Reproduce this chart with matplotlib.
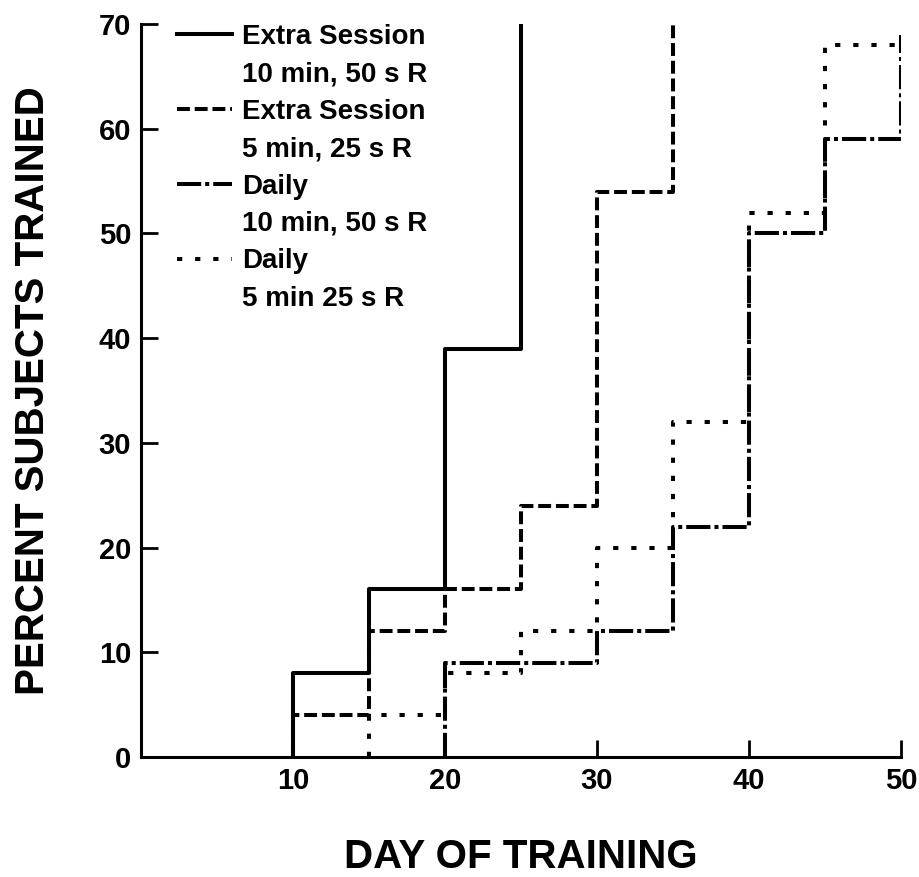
import matplotlib.pyplot as plt
from matplotlib.lines import Line2D

plt.rcParams['font.family'] = ['Liberation Sans', 'DejaVu Sans']
plt.rcParams['font.weight'] = 'bold'

# cumulative percent of subjects reaching criterion, read every 5 days
days = [0, 5, 10, 15, 20, 25, 30, 35, 40, 45, 50]
extra_10min = [0, 0, 8, 16, 39, 100, 100, 100, 100, 100, 100]
extra_5min = [0, 0, 4, 12, 16, 24, 54, 100, 100, 100, 100]
daily_10min = [0, 0, 0, 0, 9, 9, 12, 22, 50, 59, 69]
daily_5min = [0, 0, 0, 4, 8, 12, 20, 32, 52, 68, 68]

x_ticks = [10, 20, 30, 40, 50]
y_ticks = [0, 10, 20, 30, 40, 50, 60, 70]

dashed = (0, (3.2, 1.2))
dashdot = (0, (6, 1, 1, 1))
dotted = (0, (1.3, 3.2))


def from_first_rise(xs, ys):
    # drop the flat run along zero so the curve starts with its first riser
    k = next(i for i, v in enumerate(ys) if v > 0)
    return [xs[k]] + xs[k:], [0] + ys[k:]


fig = plt.figure(figsize=(9.19, 8.77), dpi=100)
ax = fig.add_axes([0.1534, 0.1368, 0.827, 0.8358])

lw = 2.9
series = [(extra_10min, '-'), (extra_5min, dashed),
          (daily_10min, dashdot), (daily_5min, dotted)]
for vals, ls in series:
    xs, ys = from_first_rise(days, vals)
    ax.step(xs, ys, where='post', color='black', lw=lw, linestyle=ls)

ax.set_xlim(0, 50)
ax.set_ylim(0, 70)
ax.set_xticks(x_ticks)
ax.set_yticks(y_ticks)

for side in ['top', 'right']:
    ax.spines[side].set_visible(False)
for side in ['left', 'bottom']:
    ax.spines[side].set_linewidth(2.2)
ax.tick_params(direction='in', length=12, width=2, pad=7, labelsize=21)

ax.set_xlabel('DAY OF TRAINING', fontsize=29, fontweight='bold')
ax.set_ylabel('PERCENT SUBJECTS TRAINED', fontsize=29, fontweight='bold')
ax.xaxis.set_label_coords(0.5, -0.11)
ax.yaxis.set_label_coords(-0.117, 0.5)

# legend: one row per text line, blank handles for the second lines
blank = Line2D([], [], alpha=0)
handles = []
for _, ls in series:
    handles += [Line2D([], [], color='black', lw=lw, linestyle=ls), blank]
labels = ['Extra Session', '10 min, 50 s R',
          'Extra Session', '5 min, 25 s R',
          'Daily', '10 min, 50 s R',
          'Daily', '5 min 25 s R']
ax.legend(handles, labels, loc='upper left', bbox_to_anchor=(0.047, 1.0),
          frameon=False, fontsize=20, handlelength=2.0, handletextpad=0.36,
          labelspacing=0.41, borderaxespad=0, borderpad=0)

fig.savefig('out.png', dpi=100)
